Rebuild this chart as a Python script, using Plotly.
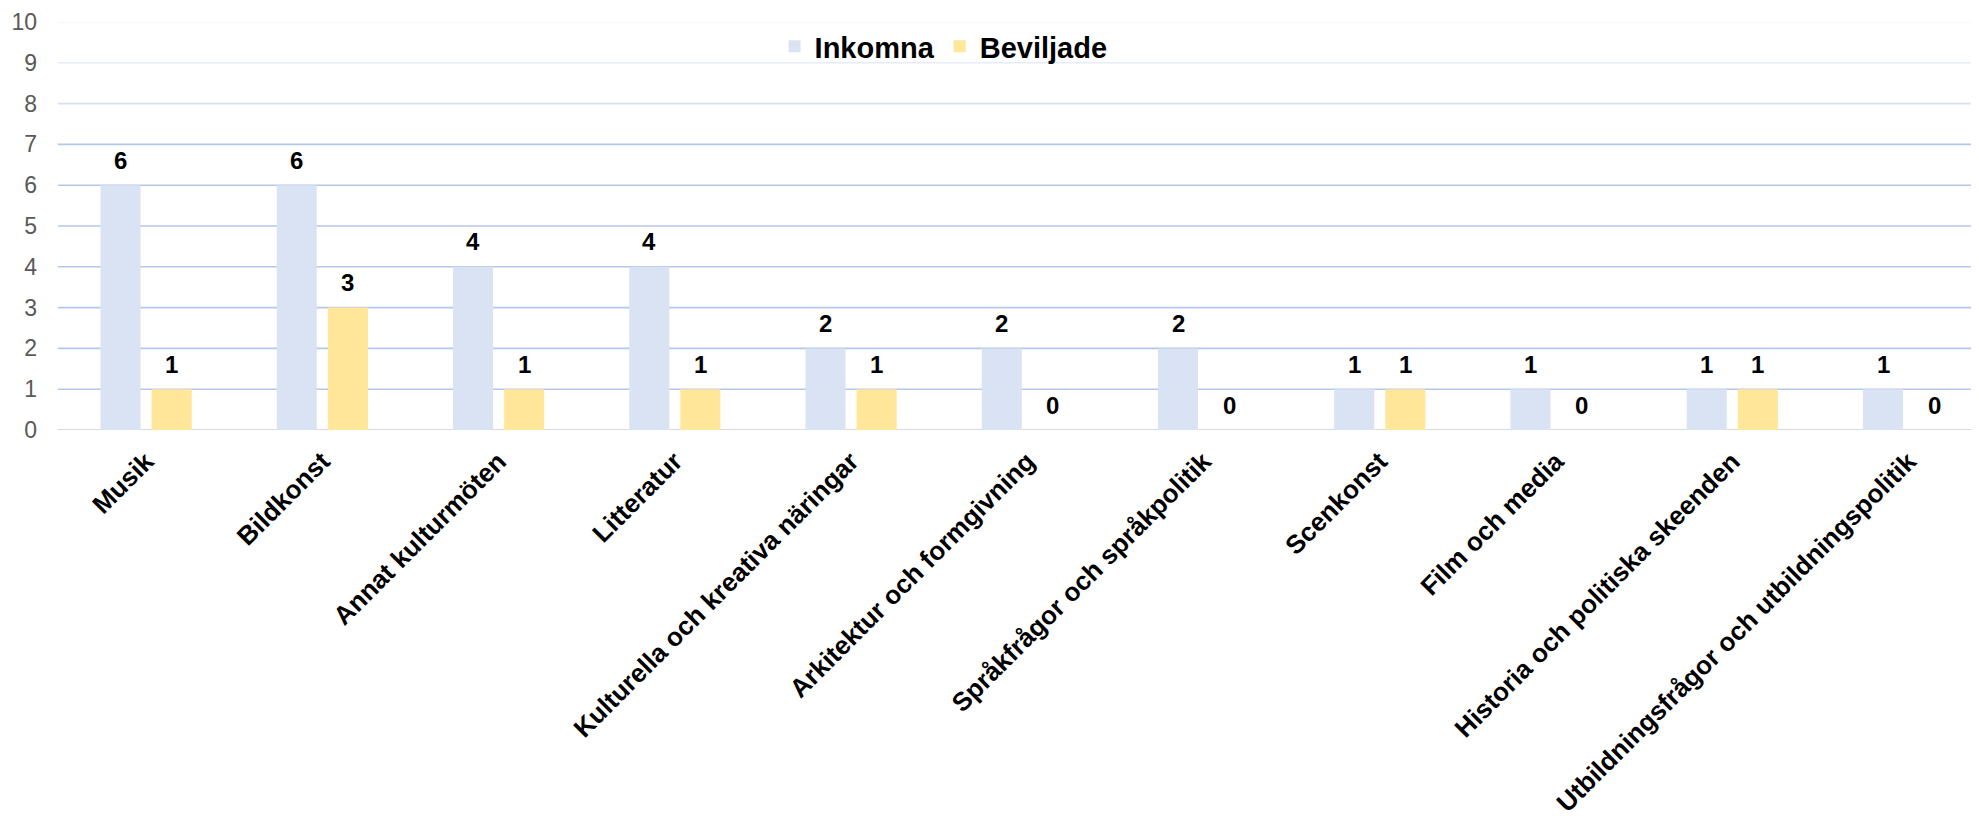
import plotly.graph_objects as go

categories = ["Musik", "Bildkonst", "Annat kulturmöten", "Litteratur",
              "Kulturella och kreativa näringar", "Arkitektur och formgivning",
              "Språkfrågor och språkpolitik", "Scenkonst", "Film och media",
              "Historia och politiska skeenden",
              "Utbildningsfrågor och utbildningspolitik"]
inkomna = [6, 6, 4, 4, 2, 2, 2, 1, 1, 1, 1]
beviljade = [1, 3, 1, 1, 1, 0, 0, 1, 0, 1, 0]
y_ticks = list(range(0, 11))
grid_colors = ["#D9D9D9", "#B4C7E7", "#B4C7E7", "#B4C7E7", "#B4C7E7", "#B4C7E7",
               "#B4C7E7", "#B4C7E7", "#D6E0F1", "#E6ECF7", "#F3F5FA"]

FONT = "Liberation Sans, Arial, sans-serif"
C_INK = "#DAE3F3"
C_BEV = "#FFE699"

fig = go.Figure()
fig.add_trace(go.Bar(name="Inkomna", x=categories, y=inkomna, marker_color=C_INK,
                     marker_line_width=0))
fig.add_trace(go.Bar(name="Beviljade", x=categories, y=beviljade, marker_color=C_BEV,
                     marker_line_width=0))

# gridlines
for v, c in zip(y_ticks, grid_colors):
    fig.add_shape(type="line", xref="paper", yref="y", x0=0, x1=1, y0=v, y1=v,
                  line=dict(color=c, width=2 if v == 0 else 1.6), layer="below")

# data labels
for series, shift in ((inkomna, -25.5), (beviljade, 25.5)):
    for cat, val in zip(categories, series):
        fig.add_annotation(x=cat, y=val, text=f"<b>{val}</b>", showarrow=False,
                           xshift=shift, yshift=25, yanchor="middle",
                           font=dict(family=FONT, size=24, color="#000000"))

fig.update_layout(
    width=1971, height=813,
    margin=dict(l=50, r=0, t=14, b=391),
    paper_bgcolor="white", plot_bgcolor="white",
    barmode="group", bargap=0.42, bargroupgap=0.216,
    font=dict(family=FONT),
    showlegend=True,
    legend=dict(orientation="h", xanchor="center", x=0.461, yanchor="middle", y=0.94,
                font=dict(family=FONT, size=29, color="#000000", weight="bold"),
                bgcolor="rgba(0,0,0,0)", itemsizing="constant"),
    xaxis=dict(type="category", range=[-0.5, 10.4], tickangle=-45,
               tickfont=dict(family=FONT, size=26, color="#000000", weight="bold"),
               showgrid=False, showline=False, zeroline=False, ticks="",
               ticklabelstandoff=10),
    yaxis=dict(range=[0, 10], tickvals=y_ticks, showgrid=False, zeroline=False,
               showline=False, tickfont=dict(family=FONT, size=23, color="#595959"),
               ticks="", ticklabelstandoff=20),
)

fig.write_html("out.html")
